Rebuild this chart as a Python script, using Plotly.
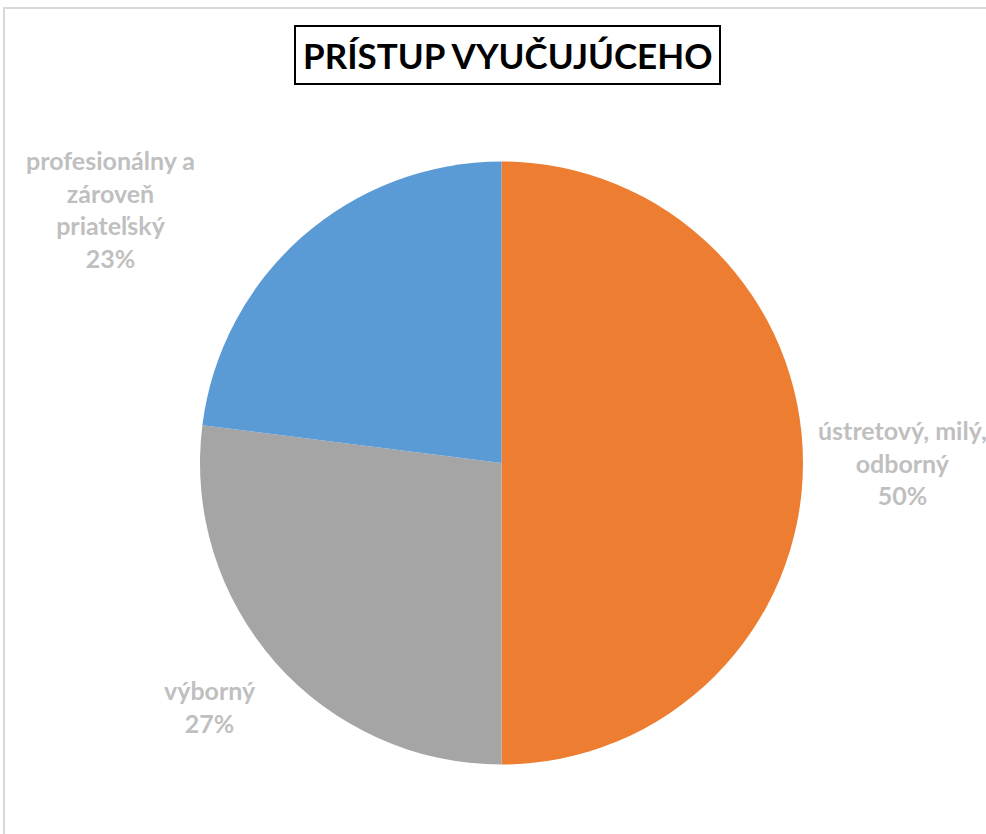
import plotly.graph_objects as go

# ── Dáta ──────────────────────────────────────────────────
labels = ["ústretový, milý,<br>odborný", "výborný", "profesionálny a<br>zároveň<br>priateľský"]
values = [50, 27, 23]
colors = ["#ED7D31", "#A5A5A5", "#5B9BD5"]
title = "PRÍSTUP VYUČUJÚCEHO"

W, H = 986, 834

fig = go.Figure(go.Pie(
    labels=labels,
    values=values,
    sort=False,
    direction="clockwise",
    rotation=0,
    marker=dict(colors=colors, line=dict(color="white", width=0)),
    textinfo="none",
    hoverinfo="label+percent",
    showlegend=False,
    domain=dict(x=[200 / W, 803 / W], y=[1 - 765 / H, 1 - 161 / H]),
))

# popisky mimo koláča (farba a štýl ako v Exceli)
total = sum(values)
label_pos = [(902, 462), (210, 706), (110, 209)]
label_font = dict(family="Lato, 'Open Sans', sans-serif", size=25, color="#BFBFBF")
for lab, val, (px_, py_) in zip(labels, values, label_pos):
    fig.add_annotation(
        x=px_ / W, y=1 - py_ / H, xref="paper", yref="paper",
        text="<b>%s<br>%d%%</b>" % (lab, round(val * 100 / total)),
        showarrow=False, align="center", xanchor="center", yanchor="middle",
        font=label_font,
    )

# titulok v rámčeku
fig.add_annotation(
    x=507 / W, y=1 - 55 / H, xref="paper", yref="paper",
    text="<b>%s</b>" % title, showarrow=False,
    xanchor="center", yanchor="middle",
    font=dict(family="Lato, sans-serif", size=35, color="black"),
    bordercolor="black", borderwidth=2, borderpad=7, bgcolor="white",
)

# rám grafu
fig.add_shape(type="rect", xref="paper", yref="paper",
              x0=4 / W, x1=1.05, y0=-0.05, y1=1 - 8 / H,
              line=dict(color="#D9D9D9", width=2), layer="below")

fig.update_layout(
    width=W, height=H,
    margin=dict(l=0, r=0, t=0, b=0),
    paper_bgcolor="white",
    plot_bgcolor="white",
)

fig.write_html("out.html", config={"displayModeBar": False},
               post_script="document.body.style.margin='0px';")
